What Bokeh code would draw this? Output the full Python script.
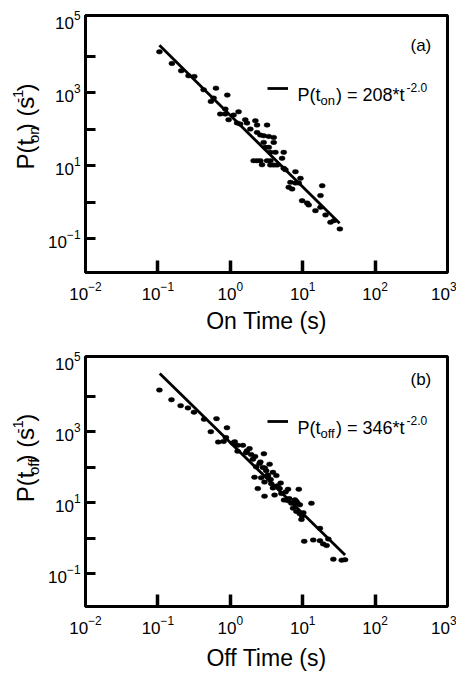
import math
from bokeh.plotting import figure
from bokeh.models import Label, FixedTicker, Range1d, Legend, LegendItem
from bokeh.core.properties import value
from bokeh.layouts import column, row
from bokeh.embed import file_html
from bokeh.resources import INLINE

# ---------------- data ----------------
t_on = [0.105, 0.156, 0.210, 0.265, 0.318, 0.428, 0.634, 0.588, 0.540, 0.909,
        0.853, 0.727, 0.853, 0.948, 1.11, 1.30, 1.24, 1.37, 1.61, 1.70,
        2.22, 2.34, 3.22, 1.89, 2.34, 2.60, 2.89, 3.40, 3.98, 3.98,
        2.89, 3.05, 3.40, 3.58, 4.20, 5.47, 5.19, 2.10, 2.34, 2.60,
        3.22, 3.58, 2.74, 3.58, 3.98, 4.43, 5.47, 5.77, 7.94, 9.31,
        6.77, 7.94, 8.83, 6.42, 7.14, 18.6, 17.6, 9.82, 11.5, 12.1,
        15.0, 17.6, 20.7, 24.2, 27.0, 32.6]
p_on = [13300, 6370, 4010, 2920, 2800, 1210, 1340, 714, 580, 863,
        357, 261, 261, 182, 244, 301, 148, 139, 182, 148,
        171, 130, 130, 101, 81.9, 69.2, 66.4, 63.7, 59.7, 43.6,
        43.6, 31.8, 31.8, 23.2, 23.2, 23.2, 15.9, 13.7, 13.7, 13.7,
        13.7, 13.7, 10.6, 10.4, 10.4, 10.4, 8.45, 7.77, 6.85, 4.50,
        3.49, 3.35, 3.35, 2.55, 2.29, 2.83, 1.51, 1.10, 0.949, 0.836,
        0.585, 0.721, 0.445, 0.280, 0.311, 0.184]
fit_on_t = [0.105, 32.3]
fit_on_p = [20000, 0.263]

t_off = [0.105, 0.154, 0.206, 0.260, 0.315, 0.435, 0.645, 0.538, 0.899, 0.681,
         0.808, 0.870, 1.08, 1.26, 1.49, 1.84, 1.26, 1.65, 1.94, 2.91,
         2.05, 2.53, 3.49, 2.28, 2.82, 3.13, 3.88, 2.16, 2.67, 3.31,
         4.32, 2.97, 3.68, 4.96, 2.40, 3.88, 4.80, 6.27, 8.83, 2.97,
         4.09, 5.07, 5.52, 6.27, 6.98, 8.19, 9.12, 7.36, 13.2, 8.19,
         9.12, 9.61, 17.3, 10.5, 14.0, 17.3, 19.2, 22.6, 21.4, 26.5,
         34.6, 38.5,
         1.15, 1.70, 2.20, 2.60, 3.00, 3.30, 3.60, 4.50, 5.80, 6.50,
         7.80, 8.50, 10.2, 9.80]
p_off = [14900, 7930, 5420, 4680, 3550, 2230, 2330, 1000, 1290, 508,
         531, 684, 478, 412, 412, 333, 282, 254, 228, 238,
         166, 126, 121, 102, 97.9, 79.3, 71.3, 52.0, 49.8, 54.2,
         57.7, 37.8, 34.0, 35.5, 24.8, 25.9, 24.8, 23.8, 23.8, 15.2,
         16.3, 18.1, 11.8, 11.3, 9.59, 10.7, 8.63, 6.98, 9.59, 5.65,
         4.88, 3.34, 1.88, 0.809, 0.881, 0.845, 0.684, 0.938, 0.615, 0.254,
         0.238, 0.245,
         520, 290, 200, 140, 95.0, 60.0, 45.0, 30.0, 20.0, 13.0,
         12.0, 9.50, 5.20, 4.20]
fit_off_t = [0.106, 38.5]
fit_off_p = [44000, 0.333]

x_major = [1e-2, 1e-1, 1e0, 1e1, 1e2, 1e3]
x_minor = [1e-1, 1e0, 1e1, 1e2]
y_major = [1e-1, 1e1, 1e3, 1e5]
y_minor = [1e-1, 1e0, 1e1, 1e2, 1e3, 1e4]

FONT = "Liberation Sans"
AW = {" ": 278, "(": 333, ")": 333, "*": 389, "-": 333, ".": 278, "=": 584,
      "P": 667, "f": 278, "n": 556, "o": 556, "s": 500, "t": 278}
for d in "0123456789":
    AW[d] = 556

YLAB_W = 45


def tw(s, size):
    return sum(AW[c] for c in s) * size / 1000.0


def lab(p, x, y, text, size, align="left"):
    p.add_layout(Label(x=x, y=y, x_units="screen", y_units="screen", text=text,
                       text_font=FONT, text_font_size=f"{size}px", text_color="black",
                       text_align=align, text_baseline="alphabetic"))


def ylabel_fig(height, sub, y0):
    f = figure(width=YLAB_W, height=height, x_range=Range1d(0, YLAB_W), y_range=Range1d(0, height),
               x_axis_location=None, y_axis_location=None, output_backend="svg",
               toolbar_location=None, min_border=0)
    f.grid.visible = False
    f.outline_line_color = None
    f.background_fill_color = "white"
    f.border_fill_color = "white"
    ang = math.pi / 2
    # (text, size, centre x of the rotated line, gap after)
    pieces = [("P(t", 24, 25, 2.5), (sub, 15, 33, 2.5), (") (s", 24, 25, 0),
              ("-1", 15, 17, 1), (")", 24, 25, 0)]
    for txt, size, cx, gap in pieces:
        w = tw(txt, size)
        f.text(x=[cx], y=[y0 + w / 2], text=[txt], angle=ang, text_font=value(FONT),
               text_font_size=f"{size}px", text_color="black",
               text_align="center", text_baseline="middle")
        y0 += w + gap
    return f


def make_panel(t, pv, ft, fp, sub, coef, xlabel, tag, height, btop, bbot, leg_y, xl_stand):
    p = figure(width=456 - YLAB_W, height=height, x_axis_type="log", y_axis_type="log",
               x_range=Range1d(1e-2, 1e3), y_range=Range1d(10 ** -1.93, 10 ** 5.12),
               output_backend="svg", toolbar_location=None,
               min_border_left=85 - YLAB_W, min_border_right=9,
               min_border_top=btop, min_border_bottom=bbot)
    p.grid.visible = False
    p.outline_line_color = "black"
    p.outline_line_width = 3
    p.background_fill_color = "white"
    p.border_fill_color = "white"

    xa = p.xaxis[0]
    xa.ticker = FixedTicker(ticks=x_major, minor_ticks=x_minor)
    xa.axis_line_color = None
    xa.major_tick_line_color = None
    xa.major_tick_in = 0
    xa.major_tick_out = 0
    xa.minor_tick_in = 12
    xa.minor_tick_out = 0
    xa.minor_tick_line_width = 3.5
    xa.minor_tick_line_color = "black"
    xa.major_label_standoff = 9
    xa.major_label_text_font = FONT
    xa.major_label_text_font_size = "17px"
    xa.major_label_text_color = "black"
    xa.axis_label = xlabel
    xa.axis_label_text_font = FONT
    xa.axis_label_text_font_size = "23px"
    xa.axis_label_text_font_style = "normal"
    xa.axis_label_text_color = "black"
    xa.axis_label_standoff = xl_stand

    ya = p.yaxis[0]
    ya.ticker = FixedTicker(ticks=y_major, minor_ticks=y_minor)
    ya.axis_line_color = None
    ya.major_tick_line_color = None
    ya.major_tick_in = 0
    ya.major_tick_out = 0
    ya.minor_tick_in = 10
    ya.minor_tick_out = 0
    ya.minor_tick_line_width = 3
    ya.minor_tick_line_color = "black"
    ya.major_label_standoff = 5
    ya.major_label_text_font = FONT
    ya.major_label_text_font_size = "17px"
    ya.major_label_text_color = "black"

    p.ellipse(x=t, y=pv, width=6, height=4.5, width_units="screen", height_units="screen",
              fill_color="black", line_color="black", line_width=0.5)
    fit = p.line(x=ft, y=fp, line_color="black", line_width=2.8)

    leg = Legend(items=[LegendItem(label=" ", renderers=[fit])], location=(182, leg_y - 3),
                 padding=0, margin=0, spacing=0, glyph_width=21, glyph_height=6,
                 label_height=6, label_width=0, label_standoff=0,
                 label_text_font_size="6px", border_line_color=None,
                 background_fill_alpha=0)
    p.add_layout(leg)

    # legend text
    bx, by = 212, leg_y - 6.5
    lab(p, bx, by, "P(t", 18)
    bx += tw("P(t", 18)
    lab(p, bx, by - 5, sub, 13)
    bx += tw(sub, 13) + 1
    txt = ") = " + coef + "*t"
    lab(p, bx, by, txt, 18)
    bx += tw(txt, 18) + 2
    lab(p, bx, by + 8, "-2.0", 12)

    # panel tag
    lab(p, 325, 227, tag, 17)
    return p


pa = make_panel(t_on, p_on, fit_on_t, fit_on_p, "on", "208", "On Time (s)", "(a)",
                348, 15, 76, 184, 5)
pb = make_panel(t_off, p_off, fit_off_t, fit_off_p, "off", "346", "Off Time (s)", "(b)",
                325, 8, 60, 185, 8)
ya_fig = ylabel_fig(348, "on", 145)
yb_fig = ylabel_fig(325, "off", 140)

layout = column(row(ya_fig, pa), row(yb_fig, pb))
open("out.html", "w").write(file_html(layout, INLINE))
